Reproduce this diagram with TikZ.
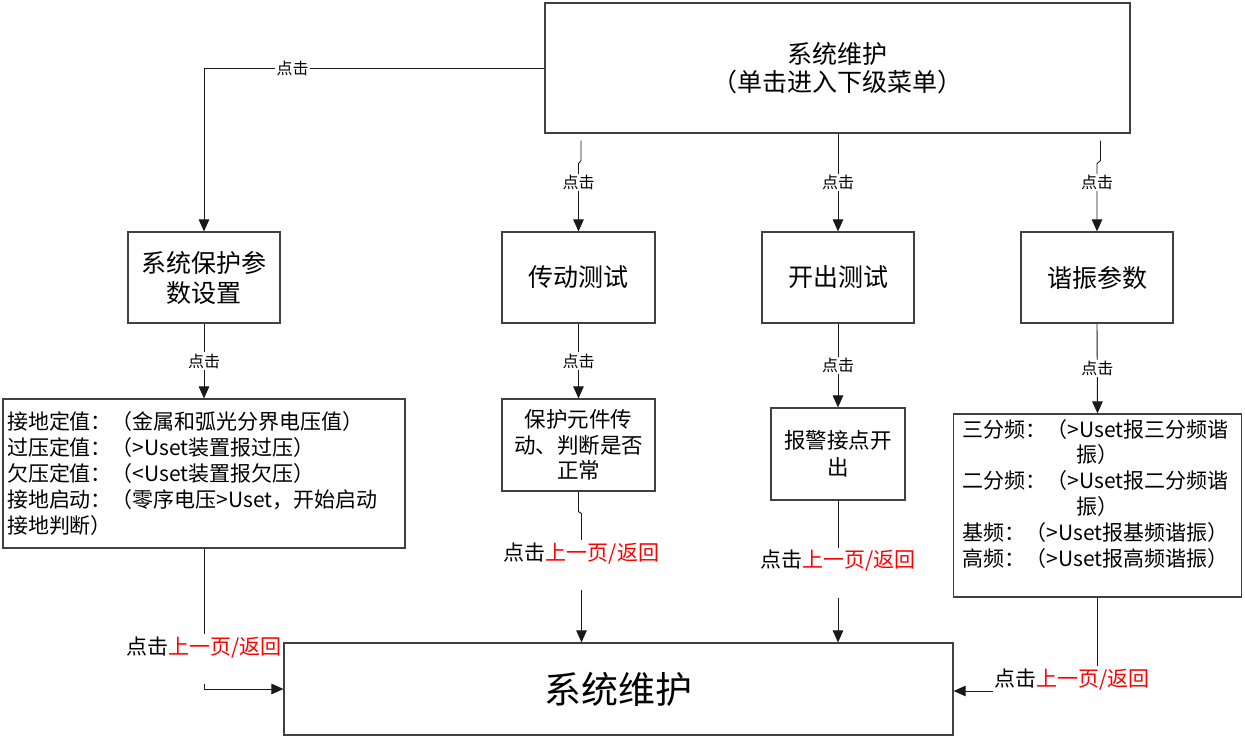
\documentclass[tikz,border=0pt]{standalone}
\usepackage{fontspec}
\setmainfont{Noto Sans CJK SC}
\usetikzlibrary{arrows.meta,calc}
\newcommand{\retlab}{点击\textcolor{red}{上一页/返回}}
\begin{document}
\begin{tikzpicture}[x=1pt,y=-1pt,
  box/.style={draw=black!75, line width=1.2pt, rectangle, inner sep=0pt, align=center, fill=white},
  line/.style={draw=black!90, line width=0.9pt},
  arr/.style={line, -{Triangle[length=12pt,width=10.5pt]}},
  clk/.style={fill=white, inner sep=1.5pt, font=\fontsize{16}{18}\selectfont},
  ret/.style={fill=white, inner xsep=1pt, inner ysep=0pt, text height=20pt, text depth=30pt, font=\fontsize{21}{24}\selectfont},
]
\useasboundingbox (0,0) rectangle (1245,739);

% boxes
\node[box, minimum width=585pt, minimum height=130pt, font=\fontsize{25}{28}\selectfont] (top) at (837.5,68) {系统维护\\（单击进入下级菜单）};

\node[box, minimum width=152pt, minimum height=91pt, font=\fontsize{25}{30}\selectfont] (sys) at (204,277.5) {系统保护参\\数设置};
\node[box, minimum width=153pt, minimum height=91pt, font=\fontsize{25}{30}\selectfont] (cd) at (578.5,277.5) {传动测试};
\node[box, minimum width=152pt, minimum height=91pt, font=\fontsize{25}{30}\selectfont] (kc) at (838,277.5) {开出测试};
\node[box, minimum width=152pt, minimum height=91pt, font=\fontsize{25}{30}\selectfont] (xz) at (1097,277.5) {谐振参数};

\node[box, minimum width=402pt, minimum height=149pt, text width=394pt, align=left, font=\fontsize{21}{25.8}\selectfont] (lb) at (204,473.5) {接地定值：（金属和弧光分界电压值）\\过压定值：（>Uset装置报过压）\\欠压定值：（<Uset装置报欠压）\\接地启动：（零序电压>Uset，开始启动\\接地判断）};
\node[box, minimum width=153pt, minimum height=92pt, font=\fontsize{21.5}{25.5}\selectfont] (pb) at (578.5,445) {保护元件传\\动、判断是否\\正常};
\node[box, minimum width=134pt, minimum height=92pt, font=\fontsize{21.5}{26.5}\selectfont] (bj) at (838,454) {报警接点开\\出};
\node[box, minimum width=288pt, minimum height=183pt, text width=270pt, align=left, font=\fontsize{21}{25.8}\selectfont] (res) at (1097.5,505.5) {三分频：（>Uset报三分频谐\\\hspace*{114pt}振）\\二分频：（>Uset报二分频谐\\\hspace*{114pt}振）\\基频：（>Uset报基频谐振）\\高频：（>Uset报高频谐振）\\\mbox{}};

\node[box, minimum width=669pt, minimum height=92pt, font=\fontsize{37}{40}\selectfont] (bot) at (618.5,689) {系统维护};

% connectors from the top box
\draw[arr] (top.west) -- node[clk,pos=0.74]{点击} (top.west -| sys.north) -- (sys.north);
\draw[arr] ($(top.south -| cd.north)+(2.5,7)$) -- ++(0,20) -- ++(-2.5,3) -- node[clk,pos=0.28]{点击} (cd.north);
\draw[arr] (top.south -| kc.north) -- node[clk]{点击} (kc.north);
\draw[arr] ($(top.south -| xz.north)+(3.5,7)$) -- ++(0,20) -- ++(-3.5,3) -- node[clk,pos=0.28]{点击} (xz.north);

% second level
\draw[arr] (sys.south) -- node[clk]{点击} (lb.north);
\draw[arr] (cd.south) -- node[clk]{点击} (pb.north);
\draw[arr] (kc.south) -- node[clk]{点击} (bj.north);
\draw[arr] (xz.south) -- node[clk]{点击} (res.north);

% returns
\coordinate (j1) at ($(pb.south)+(3,22)$);
\draw[arr] (pb.south) -- ++(0,20) -- (j1) -- node[ret,pos=0.4]{\retlab} (j1 |- bot.north);
\draw[arr] (bj.south) -- node[ret,pos=0.51]{\retlab} (bj.south |- bot.north);

\node[ret] (l1) at (204,659) {\retlab};
\draw[line] (lb.south) -- (l1.north);
\draw[arr] (l1.south) |- (bot.west);

\node[ret] (l4) at (1072,691) {\retlab};
\draw[line] (res.south) -- (res.south |- l4.north);
\draw[arr] (l4.west) -- (l4.west -| bot.east);
\end{tikzpicture}
\end{document}
